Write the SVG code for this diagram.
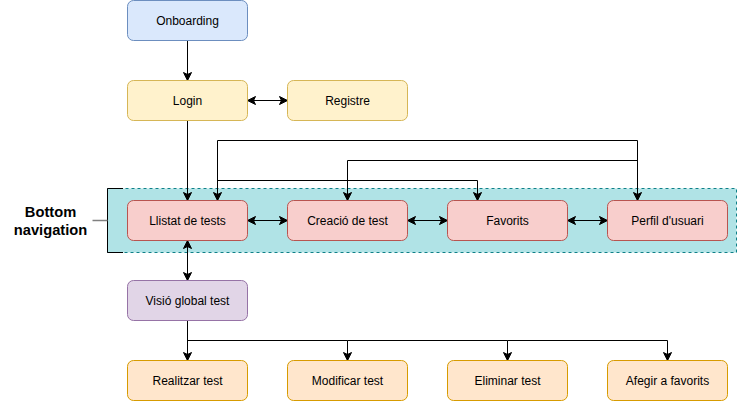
<svg xmlns="http://www.w3.org/2000/svg" width="738" height="401" viewBox="0 0 738 401">
<style>
.n rect{stroke-width:1}
.t{font-family:"Liberation Sans",Arial,sans-serif;font-size:12px;fill:#000;text-anchor:middle}
.blue{fill:#dae8fc;stroke:#6c8ebf}
.yel{fill:#fff2cc;stroke:#d6b656}
.pink{fill:#f8cecc;stroke:#b85450}
.pur{fill:#e1d5e7;stroke:#9673a6}
.org{fill:#ffe6cc;stroke:#d79b00}
.e{fill:none;stroke:#000;stroke-width:1}
.a{marker-end:url(#arr)}
.b{marker-start:url(#arr);marker-end:url(#arr)}
</style>
<defs>
<marker id="arr" markerUnits="userSpaceOnUse" viewBox="-9 -5 10 10" refX="0" refY="0" markerWidth="10" markerHeight="10" orient="auto-start-reverse" overflow="visible">
<path d="M0,0 L-8,-4 L-6,0 L-8,4 Z" fill="#000" stroke="#000" stroke-width="1" stroke-linejoin="miter"/>
</marker>
</defs>
<g id="bottom-navigation">
<rect x="107.5" y="188.5" width="629" height="64" fill="#b0e3e6" stroke="#0e8088" stroke-dasharray="3 3"/>
<path d="M123,188.5 H107.5 V252.5 H123" fill="none" stroke="#000"/>
<line x1="92.5" y1="220.5" x2="107.5" y2="220.5" stroke="#808080" stroke-width="1.5"/>
<text x="50.5" y="217" font-family="Liberation Sans,Arial,sans-serif" font-size="14.7" font-weight="bold" text-anchor="middle">Bottom</text>
<text x="50.5" y="235" font-family="Liberation Sans,Arial,sans-serif" font-size="14.7" font-weight="bold" text-anchor="middle">navigation</text>
</g>
<g id="connectors">
<path class="e a" d="M187.5,40.5 V80.5"/>
<path class="e b" d="M247.5,100.5 H287.5"/>
<path class="e a" d="M187.5,120.5 V200.5"/>
<path class="e b" d="M247.5,220.5 H287.5"/>
<path class="e b" d="M407.5,220.5 H447.5"/>
<path class="e b" d="M567.5,220.5 H607.5"/>
<path class="e b" d="M187.5,240.5 V280.5"/>
<path class="e b" d="M217.5,200.5 V140.5 H637.5 V200.5"/>
<path class="e a" d="M637.5,160.5 H347.5 V200.5"/>
<path class="e a" d="M217.5,180.5 H477.5 V200.5"/>
<path class="e a" d="M187.5,320.5 V360.5"/>
<path class="e a" d="M187.5,340.5 H347.5 V360.5"/>
<path class="e a" d="M347.5,340.5 H507.5 V360.5"/>
<path class="e a" d="M507.5,340.5 H667.5 V360.5"/>
</g>
<g id="onboarding" class="n"><rect class="blue" x="127.5" y="0.5" width="120" height="40" rx="6"/><text class="t" x="187.5" y="24.5">Onboarding</text></g>
<g id="login" class="n"><rect class="yel" x="127.5" y="80.5" width="120" height="40" rx="6"/><text class="t" x="187.5" y="104.5">Login</text></g>
<g id="registre" class="n"><rect class="yel" x="287.5" y="80.5" width="120" height="40" rx="6"/><text class="t" x="347.5" y="104.5">Registre</text></g>
<g id="llistat" class="n"><rect class="pink" x="127.5" y="200.5" width="120" height="40" rx="6"/><text class="t" x="187.5" y="224.5">Llistat de tests</text></g>
<g id="creacio" class="n"><rect class="pink" x="287.5" y="200.5" width="120" height="40" rx="6"/><text class="t" x="347.5" y="224.5">Creació de test</text></g>
<g id="favorits" class="n"><rect class="pink" x="447.5" y="200.5" width="120" height="40" rx="6"/><text class="t" x="507.5" y="224.5">Favorits</text></g>
<g id="perfil" class="n"><rect class="pink" x="607.5" y="200.5" width="120" height="40" rx="6"/><text class="t" x="667.5" y="224.5">Perfil d'usuari</text></g>
<g id="visio" class="n"><rect class="pur" x="127.5" y="280.5" width="120" height="40" rx="6"/><text class="t" x="187.5" y="304.5">Visió global test</text></g>
<g id="realitzar" class="n"><rect class="org" x="127.5" y="360.5" width="120" height="40" rx="6"/><text class="t" x="187.5" y="384.5">Realitzar test</text></g>
<g id="modificar" class="n"><rect class="org" x="287.5" y="360.5" width="120" height="40" rx="6"/><text class="t" x="347.5" y="384.5">Modificar test</text></g>
<g id="eliminar" class="n"><rect class="org" x="447.5" y="360.5" width="120" height="40" rx="6"/><text class="t" x="507.5" y="384.5">Eliminar test</text></g>
<g id="afegir" class="n"><rect class="org" x="607.5" y="360.5" width="120" height="40" rx="6"/><text class="t" x="667.5" y="384.5">Afegir a favorits</text></g>
</svg>
